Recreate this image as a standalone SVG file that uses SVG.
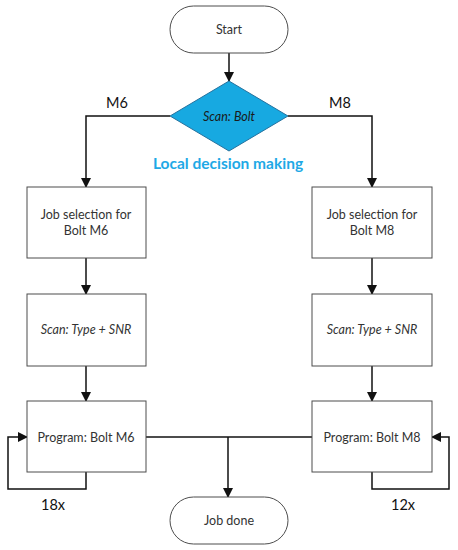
<svg xmlns="http://www.w3.org/2000/svg" width="458" height="550" viewBox="0 0 458 550">
<style>
.box{fill:#fff;stroke:#4d4d4d;stroke-width:1}
.t{font-family:Lato,"Liberation Sans",sans-serif;font-size:12.5px;fill:#333;text-anchor:middle}
.i{font-style:italic}
.lbl{font-family:Lato,"Liberation Sans",sans-serif;font-size:14.5px;fill:#111;text-anchor:middle}
.c{fill:none;stroke:#111;stroke-width:1.5}
</style>
<defs>
<marker id="ah" markerWidth="10" markerHeight="10" refX="9" refY="5" orient="auto" markerUnits="userSpaceOnUse">
<path d="M0,0 L10,5 L0,10 Z" fill="#111"/>
</marker>
</defs>
<rect width="458" height="550" fill="#fff"/>
<g id="connectors">
<path class="c" d="M229,53 V81" marker-end="url(#ah)"/>
<path class="c" d="M170,116 H86 V187" marker-end="url(#ah)"/>
<path class="c" d="M288,116 H372 V187" marker-end="url(#ah)"/>
<path class="c" d="M86,258 V294" marker-end="url(#ah)"/>
<path class="c" d="M372,258 V294" marker-end="url(#ah)"/>
<path class="c" d="M86,366 V401" marker-end="url(#ah)"/>
<path class="c" d="M372,366 V401" marker-end="url(#ah)"/>
<path class="c" d="M146,437 H312"/>
<path class="c" d="M228,437 V497" marker-end="url(#ah)"/>
<path class="c" d="M86,472 V489 H8 V437 H27" marker-end="url(#ah)"/>
<path class="c" d="M372,472 V489 H449 V437 H432" marker-end="url(#ah)"/>
<text class="lbl" x="117" y="108">M6</text>
<text class="lbl" x="340" y="108">M8</text>
<text class="lbl" x="53" y="510">18x</text>
<text class="lbl" x="403" y="510">12x</text>
</g>
<g id="start">
<rect class="box" x="170" y="6" width="118" height="47" rx="23.5"/>
<text class="t" x="229" y="34">Start</text>
</g>
<g id="decision">
<path d="M229,81 L288,116 L229,151 L170,116 Z" fill="#17a9e1" stroke="#26729e" stroke-width="1"/>
<text class="t i" x="229" y="120.5" style="fill:#1a1a1a">Scan: Bolt</text>
<text x="228" y="168.5" font-family="Lato,'Liberation Sans',sans-serif" font-size="15.5px" font-weight="bold" fill="#1ea9e6" text-anchor="middle">Local decision making</text>
</g>
<g id="job-m6">
<rect class="box" x="27" y="187" width="119" height="71"/>
<text class="t" x="86" y="218.5">Job selection for</text>
<text class="t" x="86" y="234.5">Bolt M6</text>
</g>
<g id="job-m8">
<rect class="box" x="312" y="187" width="120" height="71"/>
<text class="t" x="372" y="218.5">Job selection for</text>
<text class="t" x="372" y="234.5">Bolt M8</text>
</g>
<g id="scan-m6">
<rect class="box" x="27" y="294" width="119" height="72"/>
<text class="t i" x="86" y="333.5">Scan: Type + SNR</text>
</g>
<g id="scan-m8">
<rect class="box" x="312" y="294" width="120" height="72"/>
<text class="t i" x="372" y="333.5">Scan: Type + SNR</text>
</g>
<g id="prog-m6">
<rect class="box" x="27" y="401" width="119" height="71"/>
<text class="t" x="86" y="441.5">Program: Bolt M6</text>
</g>
<g id="prog-m8">
<rect class="box" x="312" y="401" width="120" height="71"/>
<text class="t" x="372" y="441.5">Program: Bolt M8</text>
</g>
<g id="done">
<rect class="box" x="170" y="497" width="118" height="47" rx="23.5"/>
<text class="t" x="229" y="525">Job done</text>
</g>
</svg>
